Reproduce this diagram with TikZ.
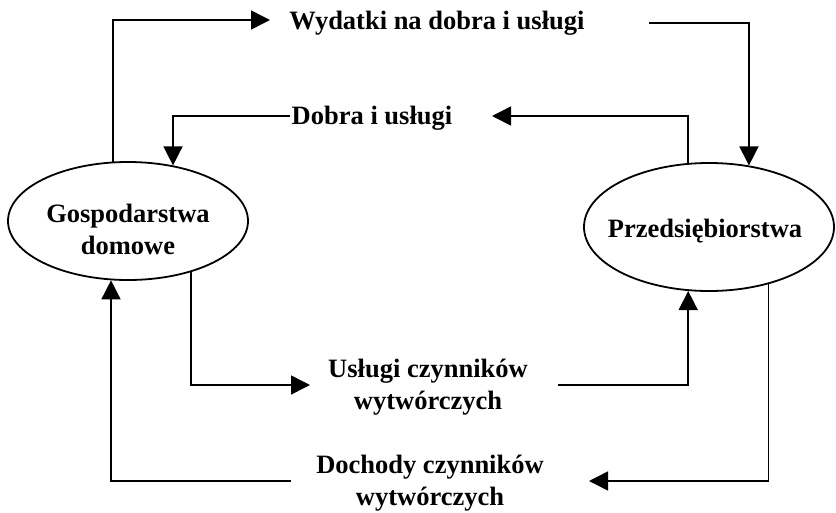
\documentclass[tikz,border=0pt]{standalone}
\usepackage{fontspec}
\setmainfont{Liberation Serif}
\usetikzlibrary{shapes.geometric,arrows.meta}

\tikzset{
	oval/.style={ellipse,draw,line width=1.8pt,inner sep=0pt},
	lbl/.style={font=\fontsize{26.5}{32}\selectfont\bfseries,align=center,inner sep=0pt},
	flow/.style={line width=1.5pt,-{Triangle[length=19pt,width=19pt]}}
}

\begin{document}
\begin{tikzpicture}[x=1pt,y=-1pt]
		\useasboundingbox (0,0) rectangle (836,512);

		\node[oval,minimum width=240pt,minimum height=118pt] (gd) at (128,221){};
		\node[lbl] (gdt) at (128,229){Gospodarstwa\\domowe};
		\node[oval,minimum width=250pt,minimum height=128pt] (pr) at (709,227){};
		\node[lbl] (prt) at (705,231){Przedsiębiorstwa};

		\node[lbl] (wyd) at (437,23){Wydatki na dobra i usługi};
		\node[lbl] (dob) at (372,118){Dobra i usługi};
		\node[lbl] (usl) at (428,387){Usługi czynników\\wytwórczych};
		\node[lbl] (doc) at (430,483){Dochody czynników\\wytwórczych};

		\coordinate (t1) at (270,20);
		\coordinate (s1) at (649,23);
		\coordinate (t2) at (492,116);
		\coordinate (s2) at (290,116);
		\coordinate (t3) at (310,385);
		\coordinate (s3) at (558,385);
		\coordinate (t4) at (589,481);
		\coordinate (s4) at (291,481);

		\draw[flow] (gd.104) |- (t1);
		\draw[flow] (s1) -| (pr.57);
		\draw[flow] (pr.108) |- (t2);
		\draw[flow] (s2) -| (gd.51);
		\draw[flow] (gd.-39) |- (t3);
		\draw[flow] (s3) -| (pr.252);
		\draw[flow] (pr.-44) |- (t4);
		\draw[flow] (s4) -| (gd.254);
	\end{tikzpicture}
\end{document}
